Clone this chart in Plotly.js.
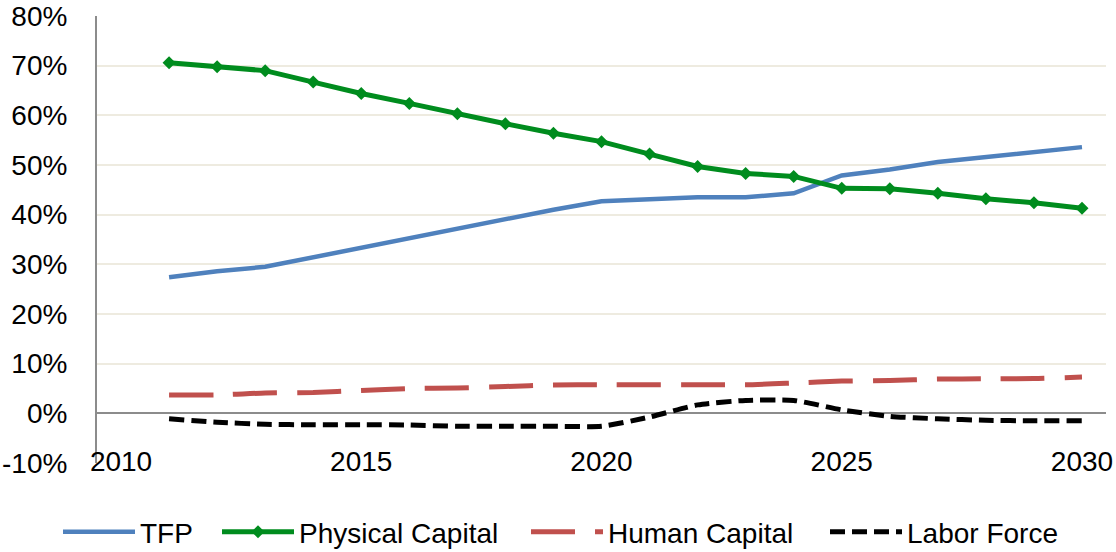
<!DOCTYPE html>
<html>
<head>
<meta charset="utf-8">
<script src="https://cdn.plot.ly/plotly-3.0.1.min.js"></script>
<style>html,body{margin:0;padding:0;background:#fff;}#chart{width:1116px;height:552px;}</style>
</head>
<body>
<div id="chart"></div>
<script>
const years = [2011,2012,2013,2014,2015,2016,2017,2018,2019,2020,2021,2022,2023,2024,2025,2026,2027,2028,2029,2030];
const tfp = [27.4,28.6,29.5,31.4,33.3,35.2,37.1,39.2,41.0,42.7,43.1,43.5,43.5,44.3,47.9,49.1,50.6,51.6,52.8,53.6];
const physicalCapital = [70.6,69.8,69.0,66.7,64.4,62.4,60.3,58.3,56.4,54.7,52.2,49.7,48.3,47.7,45.3,45.2,44.3,43.2,42.4,41.3];
const humanCapital = [3.7,3.7,4.1,4.2,4.6,5.0,5.1,5.4,5.7,5.75,5.75,5.75,5.75,6.1,6.5,6.6,6.9,6.95,7.0,7.3];
const laborForce = [-1.1,-1.8,-2.2,-2.3,-2.3,-2.35,-2.6,-2.6,-2.6,-2.6,-0.75,1.7,2.6,2.6,0.7,-0.6,-1.1,-1.4,-1.5,-1.5];
const yTickVals = [-10,0,10,20,30,40,50,60,70,80];
const yTickText = ['-10%','0%','10%','20%','30%','40%','50%','60%','70%','80%'];
const xTickVals = [2010,2015,2020,2025,2030];

const FONT = 'Liberation Sans, Arial, sans-serif';
const traces = [
  {x: years, y: tfp, name: 'TFP', mode: 'lines', legend: 'legend',
   line: {color: '#4F81BD', width: 4.5}},
  {x: years, y: physicalCapital, name: 'Physical Capital', mode: 'lines+markers', legend: 'legend2',
   line: {color: '#008C1E', width: 5}, marker: {symbol: 'diamond', size: 10, color: '#008C1E'}},
  {x: years, y: humanCapital, name: 'Human Capital', mode: 'lines', legend: 'legend3',
   line: {color: '#C0504D', width: 5, dash: '44px,20px', shape: 'spline', smoothing: 0.6}},
  {x: years, y: laborForce, name: 'Labor Force', mode: 'lines', legend: 'legend4',
   line: {color: '#000000', width: 5, dash: '15px,7px', shape: 'spline', smoothing: 0.6}}
];
function leg(px) {
  return {orientation: 'h', x: px / 1116, xanchor: 'left', xref: 'container',
          y: 0.036, yanchor: 'middle', yref: 'container', bgcolor: 'rgba(0,0,0,0)',
          font: {family: FONT, size: 28, color: '#000'}, itemwidth: 72};
}
const layout = {
  width: 1116, height: 552,
  margin: {l: 97, r: 10, t: 16, b: 89},
  paper_bgcolor: '#ffffff', plot_bgcolor: '#ffffff',
  font: {family: FONT, size: 28, color: '#000000'},
  showlegend: true,
  legend: leg(58), legend2: leg(217), legend3: leg(526), legend4: leg(825),
  xaxis: {range: [2009.5, 2030.5], tickmode: 'array', tickvals: xTickVals,
          showgrid: false, zeroline: false, showline: false, ticks: '',
          tickfont: {family: FONT, size: 28, color: '#000'}, ticklabelstandoff: -21},
  yaxis: {range: [-10, 80], tickmode: 'array', tickvals: yTickVals, ticktext: yTickText,
          showgrid: true, gridcolor: '#EEEBE0', gridwidth: 2,
          zeroline: true, zerolinecolor: '#8C8C8C', zerolinewidth: 2,
          showline: true, linecolor: '#8C8C8C', linewidth: 2, ticks: '',
          tickfont: {family: FONT, size: 28, color: '#000'}, ticklabelstandoff: 22}
};
Plotly.newPlot('chart', traces, layout, {displayModeBar: false, staticPlot: true});
</script>
</body>
</html>
